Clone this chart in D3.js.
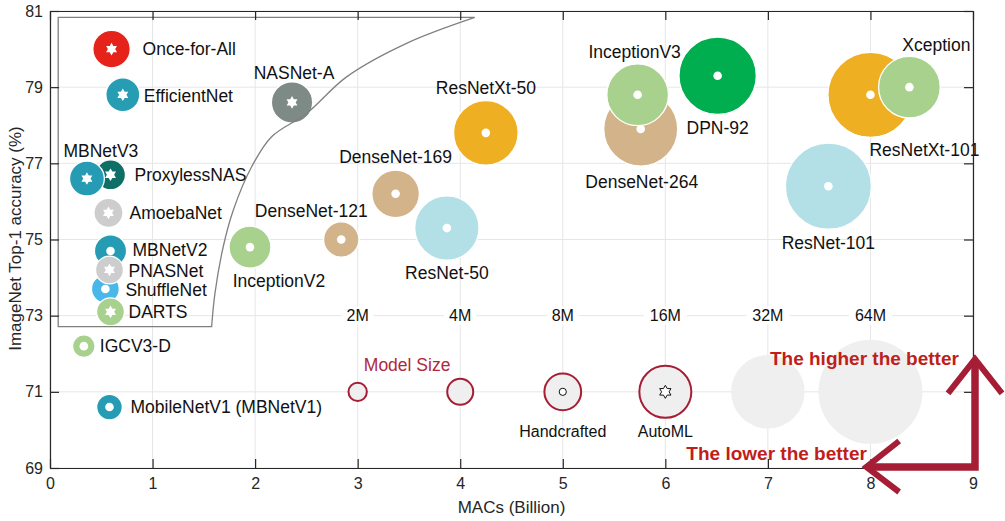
<!DOCTYPE html>
<html>
<head>
<meta charset="utf-8">
<script src="https://cdn.jsdelivr.net/npm/d3@7"></script>
<style>
  body { margin: 0; background: #fff; }
  svg { display: block; font-family: "Liberation Sans", Arial, Helvetica, sans-serif; }
</style>
</head>
<body>
<script>
// drawing order matters: later entries sit on top
const models = ["Once-for-All", "EfficientNet", "NASNet-A", "ProxylessNAS", "MBNetV3", "AmoebaNet",
  "MBNetV2", "ShuffleNet", "PNASNet", "DARTS", "IGCV3-D", "MobileNetV1 (MBNetV1)", "InceptionV2",
  "DenseNet-121", "DenseNet-169", "ResNet-50", "ResNetXt-50", "DenseNet-264", "InceptionV3",
  "DPN-92", "ResNet-101", "ResNetXt-101", "Xception"];
const macs = [0.60, 0.71, 2.36, 0.59, 0.36, 0.57, 0.59, 0.54, 0.58, 0.59, 0.33, 0.58, 1.95,
  2.84, 3.37, 3.87, 4.25, 5.76, 5.73, 6.51, 7.59, 8.0, 8.38];
const top1 = [80.0, 78.8, 78.6, 76.7, 76.6, 75.7, 74.7, 73.7, 74.2, 73.1, 72.2, 70.6, 74.8,
  75.0, 76.2, 75.3, 77.8, 77.9, 78.8, 79.3, 76.4, 78.8, 79.0];
const params = [8.3, 6.8, 10.1, 5.3, 7.2, 5.0, 6.1, 4.6, 4.6, 4.6, 3.0, 3.9, 10.4,
  7.4, 13.4, 24.5, 24.7, 32.4, 22.5, 35.4, 43.8, 42.8, 22.5];
const family = ["OFA", "EfficientNet", "NASNet", "ProxylessNAS", "MobileNet", "AmoebaNet",
  "MobileNet", "ShuffleNet", "PNASNet", "DARTS", "IGCV", "MobileNet", "Inception",
  "DenseNet", "DenseNet", "ResNet", "ResNeXt", "DenseNet", "Inception",
  "DPN", "ResNet", "ResNeXt", "Xception"];
const design = ["AutoML", "AutoML", "AutoML", "AutoML", "AutoML", "AutoML",
  "Handcrafted", "Handcrafted", "AutoML", "AutoML", "Handcrafted", "Handcrafted", "Handcrafted",
  "Handcrafted", "Handcrafted", "Handcrafted", "Handcrafted", "Handcrafted", "Handcrafted",
  "Handcrafted", "Handcrafted", "Handcrafted", "Handcrafted"];

const legendSizes = [2, 4, 8, 16, 32, 64];
const legendLabels = ["2M", "4M", "8M", "16M", "32M", "64M"];
const xTicks = [0, 1, 2, 3, 4, 5, 6, 7, 8, 9];
const yTicks = [69, 71, 73, 75, 77, 79, 81];

// hand-drawn frontier around the AutoML corner (MACs, top-1)
const frontier = [[1.576, 72.71], [1.608, 73.58], [1.689, 74.81], [1.787, 75.77], [1.966, 76.91],
  [2.161, 77.70], [2.502, 78.31], [2.892, 79.27], [3.477, 80.15], [4.142, 80.83]];

const margin = {top: 11, right: 32, bottom: 53, left: 50};
const width = 1005 - margin.left - margin.right;
const height = 521 - margin.top - margin.bottom;

const x = d3.scaleLinear().domain([0, 9]).range([0, width]);
const y = d3.scaleLinear().domain([69, 81]).range([height, 0]);
const r = d3.scaleSqrt().domain([0, 64]).range([0, 52]);
const color = d3.scaleOrdinal()
  .domain(["OFA", "EfficientNet", "NASNet", "ProxylessNAS", "MobileNet", "AmoebaNet", "ShuffleNet",
    "PNASNet", "DARTS", "IGCV", "Inception", "DenseNet", "ResNet", "ResNeXt", "DPN", "Xception"])
  .range(["#e5231b", "#279db4", "#7e8a86", "#0f6f66", "#259cb3", "#cdcdcd", "#4ab7e9",
    "#cdcdcd", "#a8d18d", "#a8d18d", "#a8d18d", "#d3b38a", "#b2e0e6", "#eeb022", "#00ad4f", "#a8d18d"]);

const labelLayout = {
  "Once-for-All": [31, 0, "start"],
  "EfficientNet": [21, 1, "start"],
  "NASNet-A": [2, -30, "middle"],
  "ProxylessNAS": [24, 0, "start"],
  "MBNetV3": [14, -28, "middle"],
  "AmoebaNet": [21, 0, "start"],
  "MBNetV2": [22, -1, "start"],
  "ShuffleNet": [20, 1, "start"],
  "PNASNet": [19, 1, "start"],
  "DARTS": [18, 0, "start"],
  "IGCV3-D": [16, 0, "start"],
  "MobileNetV1 (MBNetV1)": [21, 0, "start"],
  "InceptionV2": [29, 34, "middle"],
  "DenseNet-121": [-30, -29, "middle"],
  "DenseNet-169": [0, -37, "middle"],
  "ResNet-50": [0, 45, "middle"],
  "ResNetXt-50": [0, -45, "middle"],
  "DenseNet-264": [1, 53, "middle"],
  "InceptionV3": [-3, -43, "middle"],
  "DPN-92": [0, 52, "middle"],
  "ResNet-101": [0, 57, "middle"],
  "ResNetXt-101": [54, 55, "middle"],
  "Xception": [27, -42, "middle"]
};

// six-pointed star, size = outer radius
const hexagram = {
  draw(context, size) {
    const R = size, ri = size / Math.sqrt(3);
    for (let i = 0; i < 12; i++) {
      const a = -Math.PI / 2 + i * Math.PI / 6;
      const rr = i % 2 === 0 ? R : ri;
      if (i === 0) context.moveTo(rr * Math.cos(a), rr * Math.sin(a));
      else context.lineTo(rr * Math.cos(a), rr * Math.sin(a));
    }
    context.closePath();
  }
};

const ink = "#262626";
const darkRed = "#a51e36";

const svg = d3.select("body").append("svg")
  .attr("width", width + margin.left + margin.right)
  .attr("height", height + margin.top + margin.bottom)
  .append("g")
  .attr("transform", "translate(" + margin.left + "," + margin.top + ")");

// grid
svg.append("g").selectAll("line").data(xTicks).join("line")
  .attr("x1", (d) => x(d)).attr("x2", (d) => x(d))
  .attr("y1", 0).attr("y2", height)
  .attr("stroke", "#e6e6e6");
svg.append("g").selectAll("line").data(yTicks).join("line")
  .attr("x1", 0).attr("x2", width)
  .attr("y1", (d) => y(d)).attr("y2", (d) => y(d))
  .attr("stroke", "#e6e6e6");

// model size legend
const legend = svg.append("g");
legend.selectAll("circle").data(legendSizes).join("circle")
  .attr("cx", (d, i) => x(3 + i))
  .attr("cy", y(71))
  .attr("r", (d) => r(d))
  .attr("fill", "#efefef")
  .attr("stroke", (d, i) => i < 4 ? darkRed : "none")
  .attr("stroke-width", 2);

const sizeText = legend.selectAll("g.size").data(legendLabels).join("g")
  .attr("class", "size")
  .attr("transform", (d, i) => "translate(" + x(3 + i) + "," + y(73) + ")");
sizeText.append("rect")
  .attr("x", (d) => -d.length * 5.5 - 5).attr("y", -9)
  .attr("width", (d) => d.length * 11 + 10).attr("height", 18)
  .attr("fill", "#fff");
sizeText.append("text")
  .attr("text-anchor", "middle").attr("dy", "0.36em")
  .attr("font-size", 16).attr("fill", "#111")
  .text((d) => d);

legend.append("text")
  .attr("x", x(3.06)).attr("y", y(71.54))
  .attr("font-size", 17.5).attr("fill", "#b0283d")
  .text("Model Size");

legend.append("circle")
  .attr("cx", x(5)).attr("cy", y(71)).attr("r", 3.6)
  .attr("fill", "#fff").attr("stroke", "#111").attr("stroke-width", 1);
legend.append("path")
  .attr("transform", "translate(" + x(6) + "," + y(71) + ")")
  .attr("d", d3.symbol().type(hexagram).size(6.5)())
  .attr("fill", "#fff").attr("stroke", "#111").attr("stroke-width", 1);
legend.selectAll("text.kind").data(["Handcrafted", "AutoML"]).join("text")
  .attr("class", "kind")
  .attr("x", (d, i) => x(5 + i)).attr("y", y(71) + 45)
  .attr("text-anchor", "middle")
  .attr("font-size", 16).attr("fill", "#111")
  .text((d) => d);

// bubbles
const idx = d3.range(models.length);
const bubble = svg.append("g").selectAll("g").data(idx).join("g")
  .attr("transform", (i) => "translate(" + x(macs[i]) + "," + y(top1[i]) + ")");
bubble.append("circle")
  .attr("r", (i) => r(params[i]))
  .attr("fill", (i) => color(family[i]))
  .attr("stroke", "#fff")
  .attr("stroke-width", 1.3);
bubble.filter((i) => design[i] === "Handcrafted").append("circle")
  .attr("r", 4.3).attr("fill", "#fff");
bubble.filter((i) => design[i] === "AutoML").append("path")
  .attr("d", d3.symbol().type(hexagram).size(6.3)())
  .attr("fill", "#fff");

// AutoML region outline
const line = d3.line().x((d) => x(d[0])).y((d) => y(d[1]));
svg.append("path")
  .attr("d", line([[frontier[frontier.length - 1][0], 80.83], [0.08, 80.83], [0.08, 72.71], [1.576, 72.71]]) +
    line.curve(d3.curveCatmullRom)(frontier).replace("M", "L"))
  .attr("fill", "none")
  .attr("stroke", "#808080")
  .attr("stroke-width", 1.3);

// model names
svg.append("g").selectAll("text").data(idx).join("text")
  .attr("x", (i) => x(macs[i]) + labelLayout[models[i]][0])
  .attr("y", (i) => y(top1[i]) + labelLayout[models[i]][1])
  .attr("dy", "0.36em")
  .attr("text-anchor", (i) => labelLayout[models[i]][2])
  .attr("font-size", 17.5)
  .attr("fill", "#111")
  .text((i) => models[i]);

// axes, MATLAB box style with inward ticks
svg.append("g").attr("transform", "translate(0," + height + ")")
  .call(d3.axisBottom(x).tickValues(xTicks).tickSizeInner(-9).tickSizeOuter(0).tickPadding(10));
svg.append("g")
  .call(d3.axisLeft(y).tickValues(yTicks).tickSizeInner(-9).tickSizeOuter(0).tickPadding(7));
svg.append("g")
  .call(d3.axisTop(x).tickValues(xTicks).tickSizeInner(-9).tickSizeOuter(0).tickFormat(""));
svg.append("g").attr("transform", "translate(" + width + ",0)")
  .call(d3.axisRight(y).tickValues(yTicks).tickSizeInner(-9).tickSizeOuter(0).tickFormat(""));
svg.selectAll(".domain, .tick line").attr("stroke", ink).attr("stroke-width", 1.2);
svg.selectAll(".tick text").attr("font-size", 16).attr("fill", ink)
  .attr("font-family", "'Liberation Sans', Arial, sans-serif");

svg.append("text")
  .attr("x", width / 2).attr("y", height + 45)
  .attr("text-anchor", "middle").attr("font-size", 17).attr("fill", ink)
  .text("MACs (Billion)");
svg.append("text")
  .attr("transform", "translate(" + (15 - margin.left) + "," + (y(75) - 1) + ") rotate(-90)")
  .attr("text-anchor", "middle").attr("dy", "0.36em").attr("font-size", 17).attr("fill", ink)
  .text("ImageNet Top-1 accuracy (%)");

// "better" arrows
const corner = [x(9) + 2, height - 1];
svg.append("path")
  .attr("d", "M" + (x(7.96) + 2) + "," + corner[1] + "L" + corner[0] + "," + corner[1] +
    "L" + corner[0] + "," + (y(71.86) + 3))
  .attr("fill", "none").attr("stroke", darkRed).attr("stroke-width", 7.5)
  .attr("stroke-linejoin", "miter");
svg.append("path")
  .attr("d", "M" + (corner[0] - 27) + "," + y(70.96) + "L" + corner[0] + "," + y(71.86) +
    "L" + (corner[0] + 27) + "," + y(70.96))
  .attr("fill", "none").attr("stroke", darkRed).attr("stroke-width", 6);
svg.append("path")
  .attr("d", "M" + x(8.28) + "," + (corner[1] - 26) + "L" + x(7.96) + "," + corner[1] +
    "L" + x(8.28) + "," + (corner[1] + 25))
  .attr("fill", "none").attr("stroke", darkRed).attr("stroke-width", 6);

svg.append("text")
  .attr("x", x(7.02)).attr("y", y(71.70))
  .attr("font-size", 19).attr("font-weight", "bold").attr("fill", "#bf1e1b")
  .text("The higher the better");
svg.append("text")
  .attr("x", x(6.205)).attr("y", y(69.22))
  .attr("font-size", 19).attr("font-weight", "bold").attr("fill", "#bf1e1b")
  .text("The lower the better");
</script>
</body>
</html>
